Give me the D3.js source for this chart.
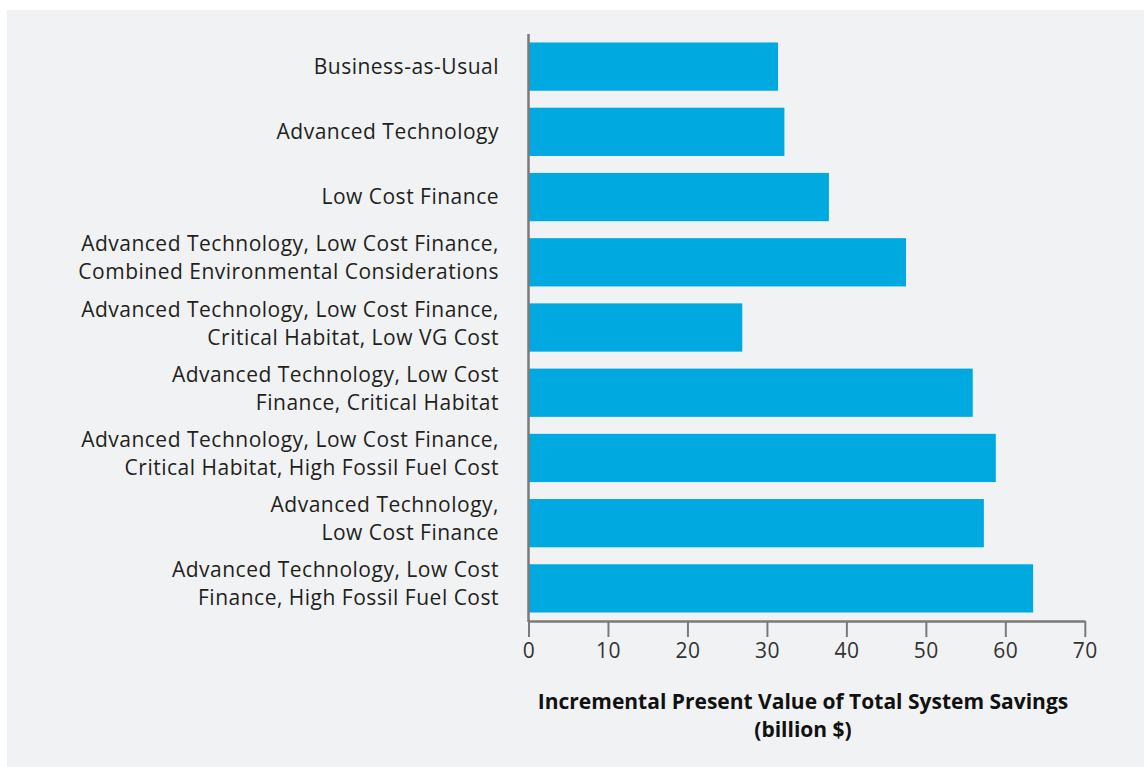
<!DOCTYPE html>
<html>
<head>
<meta charset="utf-8">
<script src="https://cdn.jsdelivr.net/npm/d3@7"></script>
<style>
  html, body { margin: 0; padding: 0; background: #ffffff; }
  svg { display: block; }
  text { font-family: "Open Sans", "DejaVu Sans", sans-serif; }
</style>
</head>
<body>
<svg id="chart" width="1145" height="767"></svg>
<script>
// Scenario names (each entry is the list of label lines)
const scenarios = [
  ["Business-as-Usual"],
  ["Advanced Technology"],
  ["Low Cost Finance"],
  ["Advanced Technology, Low Cost Finance,", "Combined Environmental Considerations"],
  ["Advanced Technology, Low Cost Finance,", "Critical Habitat, Low VG Cost"],
  ["Advanced Technology, Low Cost", "Finance, Critical Habitat"],
  ["Advanced Technology, Low Cost Finance,", "Critical Habitat, High Fossil Fuel Cost"],
  ["Advanced Technology,", "Low Cost Finance"],
  ["Advanced Technology, Low Cost", "Finance, High Fossil Fuel Cost"]
];
// Incremental present value of total system savings, billion $
const savings = [31.4, 32.2, 37.8, 47.5, 26.9, 55.9, 58.8, 57.3, 63.5];
const xTicks = [0, 10, 20, 30, 40, 50, 60, 70];
const axisTitle = ["Incremental Present Value of Total System Savings", "(billion $)"];

const svg = d3.select("#chart");

// panel background
svg.append("rect")
  .attr("x", 7).attr("y", 10)
  .attr("width", 1137).attr("height", 757)
  .attr("fill", "#f1f2f4");

const plotLeft = 528.5, plotRight = 1084.8, plotTop = 34, plotBottom = 621;

const x = d3.scaleLinear().domain([0, 70]).range([plotLeft, plotRight]);
const y = d3.scaleBand()
  .domain(d3.range(scenarios.length))
  .range([plotTop, plotBottom])
  .paddingInner(0.26)
  .paddingOuter(0.13);

// bars
svg.append("g").selectAll("rect")
  .data(savings)
  .join("rect")
  .attr("x", x(0))
  .attr("y", (d, i) => y(i))
  .attr("width", d => x(d) - x(0))
  .attr("height", y.bandwidth())
  .attr("fill", "#00a9e0");

// x axis
const xAxis = svg.append("g")
  .attr("transform", `translate(0,${plotBottom})`)
  .call(d3.axisBottom(x).tickValues(xTicks).tickSize(16).tickPadding(6).tickSizeOuter(0));
xAxis.select(".domain").attr("stroke", "#7a7a7a").attr("stroke-width", 2.5);
xAxis.selectAll(".tick line").attr("stroke", "#7a7a7a").attr("stroke-width", 2);
xAxis.selectAll(".tick text")
  .attr("fill", "#333333")
  .attr("font-size", 21)
  .attr("letter-spacing", 0.5)
  .attr("font-family", "\"Open Sans\", sans-serif");

// y axis line
svg.append("line")
  .attr("x1", plotLeft).attr("x2", plotLeft)
  .attr("y1", plotTop).attr("y2", plotBottom + 1)
  .attr("stroke", "#7a7a7a").attr("stroke-width", 2.5);

// category labels
const labels = svg.append("g").selectAll("text")
  .data(scenarios)
  .join("text")
  .attr("text-anchor", "end")
  .attr("fill", "#231f20")
  .attr("font-size", 21)
  .attr("letter-spacing", 0.5)
  .attr("x", 499)
  .attr("y", (d, i) => y(i) + y.bandwidth() / 2 + (d.length === 1 ? 7 : -11));
labels.selectAll("tspan")
  .data(d => d)
  .join("tspan")
  .attr("x", 499)
  .attr("dy", (d, i) => i === 0 ? 0 : 28)
  .text(d => d);

// axis title
svg.append("text")
  .attr("text-anchor", "middle")
  .attr("fill", "#111111")
  .attr("font-size", 21)
  .attr("font-weight", "bold")
  .attr("x", 803)
  .attr("y", 709)
  .selectAll("tspan")
  .data(axisTitle)
  .join("tspan")
  .attr("x", 803)
  .attr("dy", (d, i) => i === 0 ? 0 : 28)
  .text(d => d);
</script>
</body>
</html>
